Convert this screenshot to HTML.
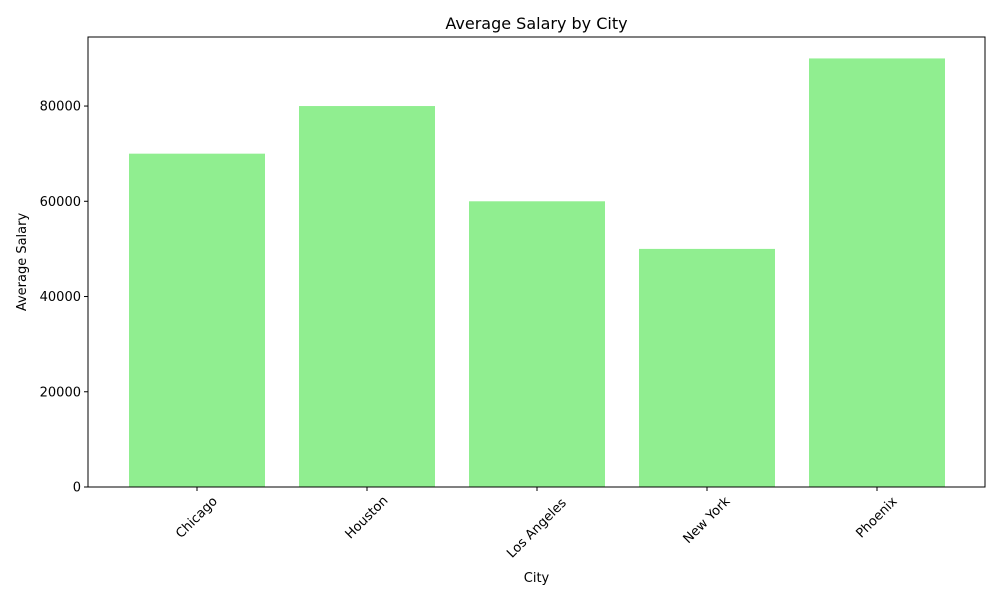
<!DOCTYPE html>
<html><head><meta charset="utf-8"><style>
body{margin:0;background:#fff;font-family:"Liberation Sans","DejaVu Sans",sans-serif;}
</style></head><body>
<svg id="chart" width="1000" height="600" style="font-family:'DejaVu Sans','Liberation Sans',sans-serif">
<rect width="1000" height="600" fill="#fff"/>
<text x="536.5" y="29" text-anchor="middle" font-size="16">Average Salary by City</text>
<g id="bars"></g>
<g id="axes"></g>
<rect x="88" y="37" width="897" height="450" fill="none" stroke="#000" stroke-width="1"/>
<text x="536.5" y="582" text-anchor="middle" font-size="13">City</text>
<text transform="translate(26,262) rotate(-90)" text-anchor="middle" font-size="13">Average Salary</text>
</svg>
<script>
const categories=["Chicago","Houston","Los Angeles","New York","Phoenix"];
const salaries=[70000,80000,60000,50000,90000];
const yTicks=[0,20000,40000,60000,80000];
const NS="http://www.w3.org/2000/svg";
const L=88,R=985,T=37,B=487;
const yMax=Math.max(...salaries)*1.05;
const unit=170,x0c=197;
function xs(i){return x0c+i*unit;}
function ys(v){return B-v/yMax*(B-T);}
const bars=document.getElementById('bars'),axes=document.getElementById('axes');
function mk(tag,attrs,parent){const e=document.createElementNS(NS,tag);for(const k in attrs)e.setAttribute(k,attrs[k]);parent.appendChild(e);return e;}
categories.forEach((c,i)=>{
  const x0=xs(i-0.4),x1=xs(i+0.4);
  const r=mk('rect',{x:x0,y:ys(salaries[i]),width:x1-x0,height:B-ys(salaries[i]),fill:'#90ee90'},bars);
  
  
  const cx=xs(i);
  const t=mk('line',{x1:cx,x2:cx,y1:B,y2:B+4,stroke:'#000'},axes);
  
  
  const len=c.length*7.6;
  const cy=B+8+len*0.3536+4;
  const lb=mk('text',{transform:`translate(${cx},${cy}) rotate(-45)`,'text-anchor':'middle','dominant-baseline':'central','font-size':'13'},axes);
  lb.textContent=c;
  
  
});
yTicks.forEach(v=>{
  const y=ys(v);
  const t=mk('line',{x1:L-4,x2:L,y1:y,y2:y,stroke:'#000'},axes);
  
  
  const lb=mk('text',{x:L-7,y:y+4.5,'text-anchor':'end','font-size':'13'},axes);
  lb.textContent=v;
  
  
});
</script>
</body></html>
